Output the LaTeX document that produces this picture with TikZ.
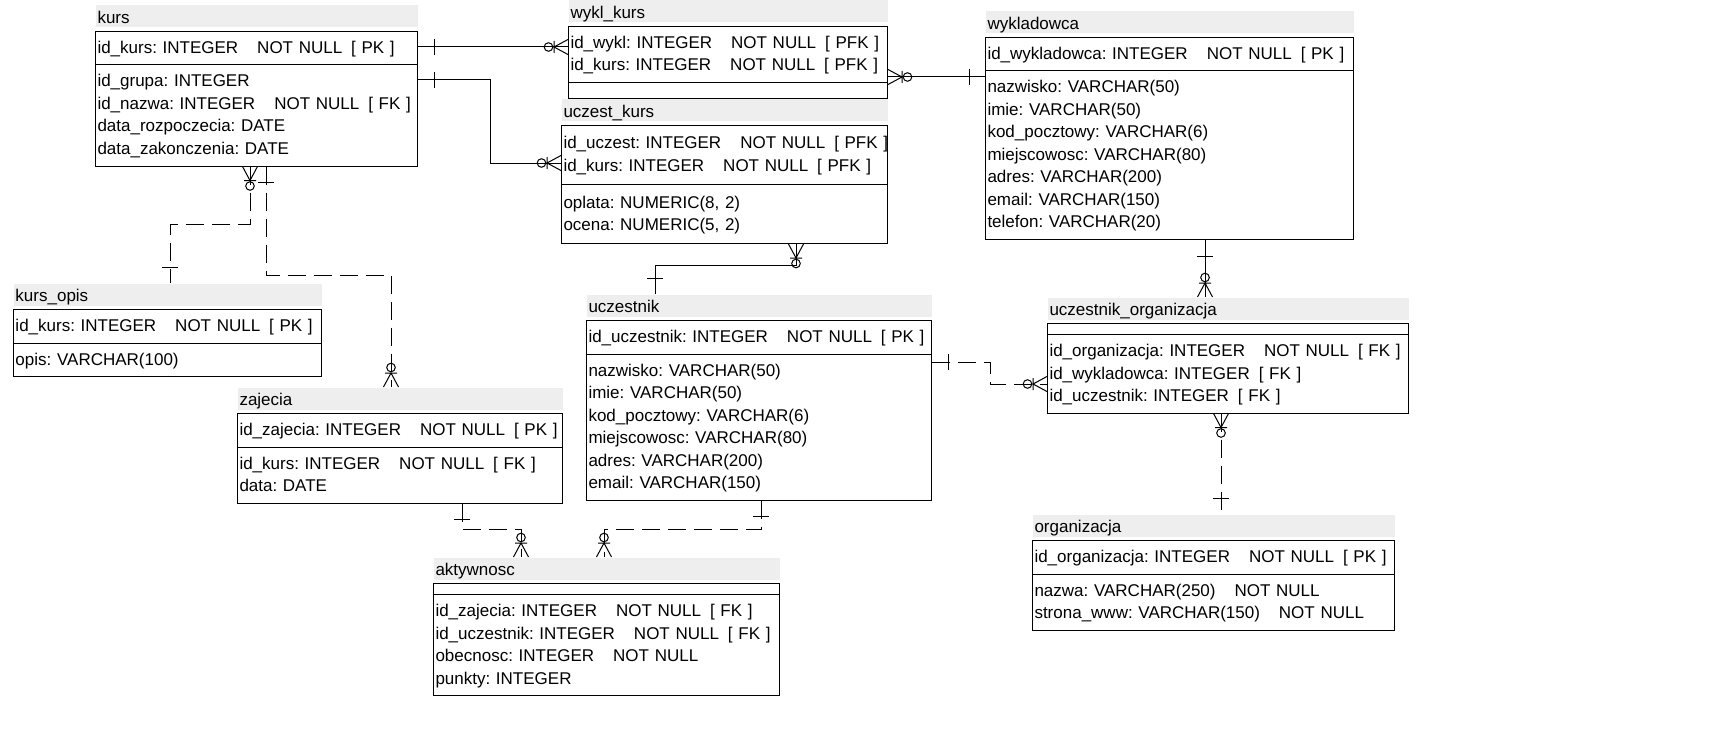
\documentclass[tikz,border=0pt]{standalone}
\usepackage{fontspec}
\setmainfont{Liberation Sans}
\usetikzlibrary{positioning,shapes.multipart}

\definecolor{titlegray}{RGB}{238,238,238}

\frenchspacing
\newcommand{\erdfont}{\fontsize{17pt}{22.5pt}\selectfont}
\newcommand{\fld}[1]{\mbox{\rule[-6pt]{0pt}{22.5pt}#1}}
\newcommand{\notnull}{\hspace{19pt}NOT NULL}
\newcommand{\keyflag}[1]{\hspace{9pt}[ #1 ]}

% zero or many
\pgfdeclarearrow{
  name = zmany,
  setup code = {
    \pgfarrowssettipend{0pt}
    \pgfarrowssetlineend{0pt}
    \pgfarrowssetbackend{-24pt}
    \pgfarrowsupperhullpoint{0pt}{7.5pt}
    \pgfarrowsupperhullpoint{-24pt}{7.5pt}
  },
  drawing code = {
    \pgfsetdash{}{0pt}
    \pgfpathmoveto{\pgfqpoint{0pt}{7.5pt}}
    \pgfpathlineto{\pgfqpoint{-14pt}{0pt}}
    \pgfpathlineto{\pgfqpoint{0pt}{-7.5pt}}
    \pgfpathmoveto{\pgfqpoint{-14pt}{6pt}}
    \pgfpathlineto{\pgfqpoint{-14pt}{-6pt}}
    \pgfusepathqstroke
    \pgfpathcircle{\pgfqpoint{-19.5pt}{0pt}}{4.3pt}
    \pgfusepathqstroke
  }
}
% exactly one
\pgfdeclarearrow{
  name = onebar,
  setup code = {
    \pgfarrowssettipend{0pt}
    \pgfarrowssetlineend{0pt}
    \pgfarrowssetbackend{-16pt}
    \pgfarrowsupperhullpoint{0pt}{8pt}
    \pgfarrowsupperhullpoint{-16pt}{8pt}
  },
  drawing code = {
    \pgfsetdash{}{0pt}
    \pgfpathmoveto{\pgfqpoint{-16pt}{8pt}}
    \pgfpathlineto{\pgfqpoint{-16pt}{-8pt}}
    \pgfusepathqstroke
  }
}

\begin{document}
\begin{tikzpicture}[
  x=1pt, y=-1pt,
  line width=1pt,
  entity/.style={rectangle split, rectangle split parts=2, draw, anchor=north west,
    text width=#1, align=left, inner xsep=2pt, inner ysep=5pt, font=\erdfont,
    rectangle split empty part height=0pt, rectangle split empty part depth=0pt},
  entitytitle/.style={fill=titlegray, text width=#1, align=left, inner xsep=2pt,
    inner ysep=3pt, text height=15pt, text depth=1pt, font=\erdfont},
  rel/.style={draw},
  optrel/.style={draw, dash pattern=on 18pt off 8pt}
]
\useasboundingbox (0,0) rectangle (1713,733);

\node[entity=318pt] (kurs) at (95,31)
  {\fld{id\_kurs: INTEGER\notnull\keyflag{PK}}
   \nodepart{two}\fld{id\_grupa: INTEGER}\\
   \fld{id\_nazwa: INTEGER\notnull\keyflag{FK}}\\
   \fld{data\_rozpoczecia: DATE}\\
   \fld{data\_zakonczenia: DATE}};
\node[entitytitle=318pt, above right=3pt and 0pt of kurs.north west] (kurs-t) {kurs};

\node[entity=315pt] (wyklkurs) at (568,26)
  {\fld{id\_wykl: INTEGER\notnull\keyflag{PFK}}\\
   \fld{id\_kurs: INTEGER\notnull\keyflag{PFK}}};
\node[entitytitle=315pt, above right=3pt and 0pt of wyklkurs.north west] (wyklkurs-t) {wykl\_kurs};

\node[entity=322pt, inner ysep=6.5pt] (uczestkurs) at (561,125)
  {\fld{id\_uczest: INTEGER\notnull\keyflag{PFK}}\\
   \fld{id\_kurs: INTEGER\notnull\keyflag{PFK}}
   \nodepart{two}\fld{oplata: NUMERIC(8, 2)}\\
   \fld{ocena: NUMERIC(5, 2)}};
\node[entitytitle=322pt, above right=3pt and 0pt of uczestkurs.north west] (uczestkurs-t) {uczest\_kurs};

\node[entity=364pt] (wykladowca) at (985,37)
  {\fld{id\_wykladowca: INTEGER\notnull\keyflag{PK}}
   \nodepart{two}\fld{nazwisko: VARCHAR(50)}\\
   \fld{imie: VARCHAR(50)}\\
   \fld{kod\_pocztowy: VARCHAR(6)}\\
   \fld{miejscowosc: VARCHAR(80)}\\
   \fld{adres: VARCHAR(200)}\\
   \fld{email: VARCHAR(150)}\\
   \fld{telefon: VARCHAR(20)}};
\node[entitytitle=364pt, above right=3pt and 0pt of wykladowca.north west] (wykladowca-t) {wykladowca};

\node[entity=304pt] (kursopis) at (13,309)
  {\fld{id\_kurs: INTEGER\notnull\keyflag{PK}}
   \nodepart{two}\fld{opis: VARCHAR(100)}};
\node[entitytitle=304pt, above right=3pt and 0pt of kursopis.north west] (kursopis-t) {kurs\_opis};

\node[entity=321pt] (zajecia) at (237,413)
  {\fld{id\_zajecia: INTEGER\notnull\keyflag{PK}}
   \nodepart{two}\fld{id\_kurs: INTEGER\notnull\keyflag{FK}}\\
   \fld{data: DATE}};
\node[entitytitle=321pt, above right=3pt and 0pt of zajecia.north west] (zajecia-t) {zajecia};

\node[entity=341pt] (uczestnik) at (586,320)
  {\fld{id\_uczestnik: INTEGER\notnull\keyflag{PK}}
   \nodepart{two}\fld{nazwisko: VARCHAR(50)}\\
   \fld{imie: VARCHAR(50)}\\
   \fld{kod\_pocztowy: VARCHAR(6)}\\
   \fld{miejscowosc: VARCHAR(80)}\\
   \fld{adres: VARCHAR(200)}\\
   \fld{email: VARCHAR(150)}};
\node[entitytitle=341pt, above right=3pt and 0pt of uczestnik.north west] (uczestnik-t) {uczestnik};

\node[entity=357pt] (uczorg) at (1047,323)
  {\nodepart{two}\fld{id\_organizacja: INTEGER\notnull\keyflag{FK}}\\
   \fld{id\_wykladowca: INTEGER\keyflag{FK}}\\
   \fld{id\_uczestnik: INTEGER\keyflag{FK}}};
\node[entitytitle=357pt, above right=3pt and 0pt of uczorg.north west] (uczorg-t) {uczestnik\_organizacja};

\node[entity=358pt] (organizacja) at (1032,540)
  {\fld{id\_organizacja: INTEGER\notnull\keyflag{PK}}
   \nodepart{two}\fld{nazwa: VARCHAR(250)\notnull}\\
   \fld{strona\_www: VARCHAR(150)\notnull}};
\node[entitytitle=358pt, above right=3pt and 0pt of organizacja.north west] (organizacja-t) {organizacja};

\node[entity=342pt] (aktywnosc) at (433,583)
  {\nodepart{two}\fld{id\_zajecia: INTEGER\notnull\keyflag{FK}}\\
   \fld{id\_uczestnik: INTEGER\notnull\keyflag{FK}}\\
   \fld{obecnosc: INTEGER\notnull}\\
   \fld{punkty: INTEGER}};
\node[entitytitle=342pt, above right=3pt and 0pt of aktywnosc.north west] (aktywnosc-t) {aktywnosc};

\path[rel, onebar-zmany] (kurs.east |- 0,47) -- (wyklkurs.west |- 0,47);
\path[rel, onebar-zmany] (kurs.east |- 0,80) -| (490,163) -- (uczestkurs.west |- 0,163);
\path[rel, zmany-onebar] (wyklkurs.east |- 0,77) -- (wykladowca.west |- 0,77);
\path[rel, zmany-onebar] (uczestkurs.south -| 796,0) |- (655,265) -- (uczestnik-t.north -| 655,0);
\path[optrel, zmany-onebar] (kurs.south -| 250,0) |- (170,224) -- (kursopis-t.north -| 170,0);
\path[optrel, onebar-zmany] (kurs.south -| 266,0) |- (391,275) -- (zajecia-t.north -| 391,0);
\path[optrel, onebar-zmany] (zajecia.south -| 462,0) |- (521,529) -- (aktywnosc-t.north -| 521,0);
\path[optrel, onebar-zmany] (uczestnik.south -| 761,0) |- (604,529) -- (aktywnosc-t.north -| 604,0);
\path[optrel, onebar-zmany] (uczestnik.east |- 0,362) -| (990,384) -- (uczorg.west |- 0,384);
\path[rel, onebar-zmany] (wykladowca.south -| 1205,0) -- (uczorg-t.north -| 1205,0);
\path[optrel, zmany-onebar] (uczorg.south -| 1221,0) -- (organizacja-t.north -| 1221,0);

\end{tikzpicture}
\end{document}
